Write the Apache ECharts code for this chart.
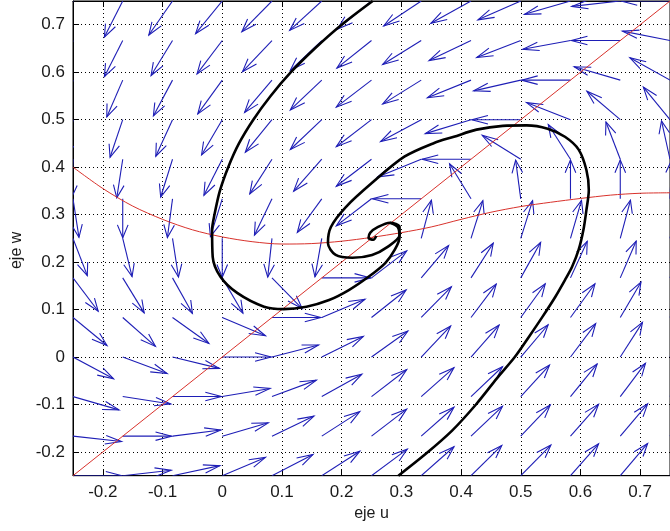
<!DOCTYPE html>
<html>
<head>
<meta charset="utf-8">
<script src="https://cdn.jsdelivr.net/npm/echarts@6/dist/echarts.min.js"></script>
<style>
  html, body { margin: 0; padding: 0; background: #fff; }
  #chart { width: 670px; height: 531px; }
</style>
</head>
<body>
<div id="chart"></div>
<script>
// quiver grid (tails of the arrows)
const uGrid = [-0.25, -0.1667, -0.0833, 0, 0.0833, 0.1667, 0.25, 0.3333, 0.4167, 0.5, 0.5833, 0.6667, 0.75]
const wGrid = [-0.25, -0.1667, -0.0833, 0, 0.0833, 0.1667, 0.25, 0.3333, 0.4167, 0.5, 0.5833, 0.6667, 0.75]

// arrow direction in degrees, one row per wGrid value (bottom to top)
const arrowAngles = [
  [0, 8, 15, 28, 33, 39, 43, 48, 51, 52, 55, 56, 59],
  [352, 0, 9, 20, 31, 39, 44, 48, 50, 53, 55, 56, 60],
  [340, 349, 0, 12, 25, 35, 44, 48, 50, 54, 57, 59, 62],
  [326, 335, 343, 0, 18, 32, 42, 53, 55, 56, 59, 63, 65],
  [314, 312, 318, 332, 0, 28, 45, 52, 59, 60, 60, 65, 68],
  [301, 296, 294, 295, 308, 0, 44, 56, 63, 66, 70, 71, 73],
  [287, 281, 277, 270, 265, 262, null, 78, 76, 76, 77, 78, 79],
  [277, 270, 264, 256, 249, 240, 224, 180, 116, 96, 90, 90, 88],
  [268, 263, 256, 248, 243, 235, 224, 207, 180, 142, 117, 107, 100],
  [262, 255, 250, 245, 237, 230, 224, 214, 201, 180, 154, 133, 123],
  [258, 251, 247, 240, 236, 230, 224, 218, 207, 196, 180, 160, 145],
  [255, 248, 244, 239, 233, 230, 225, 218, 211, 206, 193, 180, 166],
  [252, 248, 241, 237, 232, 229, 226, 220, 215, 209, 200, 188, 180]
]

// nullclines
const diagU = [-0.25, 0.75]
const diagW = [-0.25, 0.75]
const cubicU = [-0.25, -0.2, -0.15, -0.1, -0.05, 0, 0.05, 0.1, 0.15, 0.2, 0.25, 0.3, 0.35, 0.4, 0.45, 0.5, 0.55, 0.6, 0.65, 0.7, 0.75]
const cubicW = [0.40, 0.355, 0.318, 0.29, 0.268, 0.253, 0.243, 0.238, 0.239, 0.244, 0.252, 0.262, 0.274, 0.29, 0.305, 0.317, 0.326, 0.334, 0.341, 0.345, 0.346]

// trajectory coming in from the bottom
const trajBU = [0.295, 0.34, 0.385, 0.425, 0.46, 0.49, 0.515, 0.536, 0.558, 0.574, 0.586, 0.597, 0.605, 0.61, 0.614, 0.61, 0.597, 0.574, 0.545, 0.51, 0.47, 0.426, 0.388, 0.355, 0.305, 0.251, 0.207, 0.182, 0.177, 0.19, 0.218, 0.251, 0.277, 0.297, 0.297, 0.281, 0.261, 0.248, 0.245, 0.253, 0.258]
const trajBW = [-0.25, -0.205, -0.155, -0.1, -0.045, 0.0, 0.045, 0.084, 0.127, 0.162, 0.19, 0.226, 0.268, 0.31, 0.352, 0.394, 0.437, 0.464, 0.481, 0.488, 0.487, 0.479, 0.464, 0.451, 0.422, 0.367, 0.316, 0.274, 0.24, 0.215, 0.209, 0.215, 0.232, 0.257, 0.274, 0.283, 0.274, 0.262, 0.251, 0.247, 0.255]

// trajectory coming in from the top
const trajAU = [0.252, 0.2, 0.155, 0.115, 0.081, 0.052, 0.028, 0.01, -0.004, -0.013, -0.017, -0.016, -0.003, 0.025, 0.07, 0.103, 0.141, 0.179, 0.212, 0.245, 0.273, 0.289, 0.297, 0.294, 0.281]
const trajAW = [0.75, 0.7, 0.65, 0.6, 0.55, 0.5, 0.45, 0.4, 0.35, 0.3, 0.268, 0.211, 0.169, 0.135, 0.106, 0.101, 0.106, 0.12, 0.141, 0.169, 0.198, 0.226, 0.253, 0.274, 0.283]

const xTicks = [-0.2, -0.1, 0, 0.1, 0.2, 0.3, 0.4, 0.5, 0.6, 0.7]
const yTicks = [-0.2, -0.1, 0, 0.1, 0.2, 0.3, 0.4, 0.5, 0.6, 0.7]

const arrowLen = 0.082
const headA = 0.33
const headB = 0.33

const zip = (a, b) => a.map((v, i) => [v, b[i]])

const arrowData = []
wGrid.forEach((w, r) => {
  uGrid.forEach((u, c) => {
    const a = arrowAngles[r][c]
    if (a !== null) arrowData.push([u, w, a])
  })
})

const chart = echarts.init(document.getElementById('chart'), null, { renderer: 'canvas' })

const font = { color: '#1a1a1a', fontSize: 17, fontFamily: 'Liberation Sans' }
const dotted = { color: '#000', width: 1, type: [1, 3] }

const axisCommon = (ticks) => ({
  type: 'value',
  min: -0.25,
  max: 0.75,
  axisLine: { show: true, onZero: false, lineStyle: { color: '#000', width: 1 } },
  axisTick: { show: true, inside: true, length: 6, customValues: ticks, lineStyle: { color: '#000' } },
  splitLine: { show: false }
})

const option = {
  animation: false,
  backgroundColor: '#fff',
  grid: { left: 73, top: 1, right: -9.6, bottom: 55.3, show: true, borderColor: '#000', borderWidth: 1 },
  xAxis: [
    Object.assign(axisCommon(xTicks), {
      position: 'bottom',
      axisLabel: Object.assign({ customValues: xTicks, margin: 8 }, font),
      splitLine: { show: true, lineStyle: dotted },
      name: 'eje u',
      nameLocation: 'middle',
      nameGap: 28,
      nameTextStyle: Object.assign({}, font, { fontSize: 16 })
    }),
    Object.assign(axisCommon(xTicks), {
      position: 'top',
      axisLabel: { show: false }
    })
  ],
  yAxis: [
    Object.assign(axisCommon(yTicks), {
      position: 'left',
      axisLabel: Object.assign({ customValues: yTicks, margin: 8 }, font),
      splitLine: { show: true, lineStyle: dotted },
      name: 'eje w',
      nameLocation: 'middle',
      nameGap: 46,
      nameTextStyle: Object.assign({}, font, { fontSize: 16, padding: [0, 24, 0, 0] })
    })
  ],
  series: [
    {
      type: 'custom',
      name: 'campo',
      clip: true,
      z: 2,
      silent: true,
      data: arrowData,
      renderItem: (params, api) => {
        const u = api.value(0)
        const w = api.value(1)
        const t = api.value(2) * Math.PI / 180
        const du = arrowLen * Math.cos(t)
        const dw = arrowLen * Math.sin(t)
        const tu = u + du
        const tw = w + dw
        const p0 = api.coord([u, w])
        const p1 = api.coord([tu, tw])
        const h1 = api.coord([tu - headA * (du + headB * dw), tw - headA * (dw - headB * du)])
        const h2 = api.coord([tu - headA * (du - headB * dw), tw - headA * (dw + headB * du)])
        const style = { stroke: '#1e1eb6', lineWidth: 1.1, fill: null }
        return {
          type: 'group',
          children: [
            { type: 'polyline', shape: { points: [p0, p1] }, style },
            { type: 'polyline', shape: { points: [h1, p1, h2] }, style }
          ]
        }
      }
    },
    {
      type: 'line',
      name: 'w = u',
      data: zip(diagU, diagW),
      showSymbol: false,
      z: 3,
      lineStyle: { color: '#d8322c', width: 1 }
    },
    {
      type: 'line',
      name: 'cubica',
      data: zip(cubicU, cubicW),
      showSymbol: false,
      smooth: 0.3,
      z: 3,
      lineStyle: { color: '#d8322c', width: 1 }
    },
    {
      type: 'line',
      name: 'trayectoria B',
      data: zip(trajBU, trajBW),
      showSymbol: false,
      smooth: 0.3,
      z: 4,
      lineStyle: { color: '#000', width: 2.6 }
    },
    {
      type: 'line',
      name: 'trayectoria A',
      data: zip(trajAU, trajAW),
      showSymbol: false,
      smooth: 0.3,
      z: 4,
      lineStyle: { color: '#000', width: 2.6 }
    }
  ]
}

chart.setOption(option)
</script>
</body>
</html>
